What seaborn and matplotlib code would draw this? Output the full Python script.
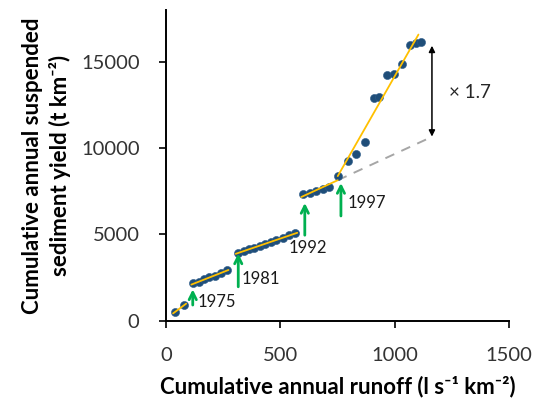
import numpy as np
import pandas as pd
import matplotlib
matplotlib.use("Agg")
import matplotlib.pyplot as plt
import seaborn as sns

# ---- data ----
runoff = [39, 80,
          119, 144, 167, 189, 214, 239, 265,
          313, 340, 362, 385, 410, 433, 458, 482, 510, 538, 566,
          598, 628, 657, 686, 715,
          751, 795, 830, 869, 909, 932, 967, 996, 1033, 1069, 1095, 1116]
sediment = [503, 908,
            2162, 2237, 2393, 2509, 2601, 2740, 2931,
            3950, 4060, 4130, 4220, 4330, 4430, 4540, 4650, 4800, 4950, 5100,
            7324, 7399, 7514, 7613, 7746,
            8364, 9231, 9676, 10347, 12913, 12971, 14220, 14300, 14879, 15994, 16092, 16127]
# index ranges of the fitted periods (1997 point shared by two periods)
segments = [(0, 2), (2, 9), (9, 20), (20, 26), (25, 37)]
break_years = ["1975", "1981", "1992", "1997"]
ratio_label = "× 1.7"

df = pd.DataFrame({"runoff": runoff, "sediment": sediment})
x = np.array(runoff, float)
y = np.array(sediment, float)

sns.set_theme(style="ticks")
plt.rcParams["font.family"] = ["Lato", "DejaVu Sans"]

fig = plt.figure(figsize=(5.40, 4.07), dpi=100)
ax = fig.add_axes([0.3074, 0.212, 0.6352, 0.7634])

sns.scatterplot(data=df, x="runoff", y="sediment", ax=ax, s=34,
                color="#1F4E79", edgecolor="#2E5C8A", linewidth=0.4, zorder=2)

fits = []
for i, (a, b) in enumerate(segments):
    k, c = np.polyfit(x[a:b], y[a:b], 1)
    fits.append((k, c))
    if i == 3:
        xs = np.array([x[a] - 6, x[b - 1]])
    elif i == 4:
        xs = np.array([x[a], x[b - 1] - 12])
    else:
        xs = np.array([x[a] - 8, x[b - 1] + 8])
    ax.plot(xs, k * xs + c, color="#FFC000", lw=1.3, zorder=3)

# dashed extrapolation of the 1992-1997 trend
k4, c4 = fits[3]
x_end = 1165
xd = np.array([x[25], x_end])
ax.plot(xd, k4 * xd + c4, color="#A6A6A6", lw=1.4, ls=(0, (5, 4)), zorder=1)

# double arrow
ax.annotate("", xy=(x_end - 2, 15930), xytext=(x_end - 2, k4 * x_end + c4),
            arrowprops=dict(arrowstyle="<|-|>", color="black", lw=1.1,
                            mutation_scale=9, shrinkA=0, shrinkB=0))
ax.text(1238, 13240, ratio_label, fontsize=13.5, va="center", ha="left", color="#262626")

# green arrows marking breaks
arrow_x = [117, 316, 607, 765]
arrow_head = [1815, 3896, 6821, 7977]
arrow_tail = [908, 1965, 4954, 6069]
label_xy = [(140, 1058), (331, 2410), (534, 4200), (796, 6830)]
for xa, hy, ty, lab, (lx, ly) in zip(arrow_x, arrow_head, arrow_tail, break_years, label_xy):
    ax.annotate("", xy=(xa, hy), xytext=(xa, ty),
                arrowprops=dict(arrowstyle="->", color="#00B050", lw=2.0,
                                mutation_scale=13, shrinkA=0, shrinkB=0))
    ax.text(lx, ly, lab, fontsize=12, va="center", ha="left", color="#1a1a1a")

ax.set_xlim(0, 1500)
ax.set_ylim(0, 18000)
ax.set_xticks([0, 500, 1000, 1500])
ax.set_yticks([0, 5000, 10000, 15000])
ax.tick_params(axis="both", labelsize=14.5, length=5, width=1.2, color="black",
               labelcolor="#333333", direction="out", pad=14)
for s in ["left", "bottom"]:
    ax.spines[s].set_linewidth(1.4)
    ax.spines[s].set_color("black")
sns.despine(ax=ax)

ax.set_xlabel("Cumulative annual runoff (l s⁻¹ km⁻²)",
              fontsize=16, fontweight="bold", labelpad=8, color="black")
ax.set_ylabel("Cumulative annual suspended\nsediment yield (t km⁻²)",
              fontsize=16, fontweight="bold", labelpad=7, linespacing=1.35, color="black")

fig.savefig("out.png", dpi=100)
